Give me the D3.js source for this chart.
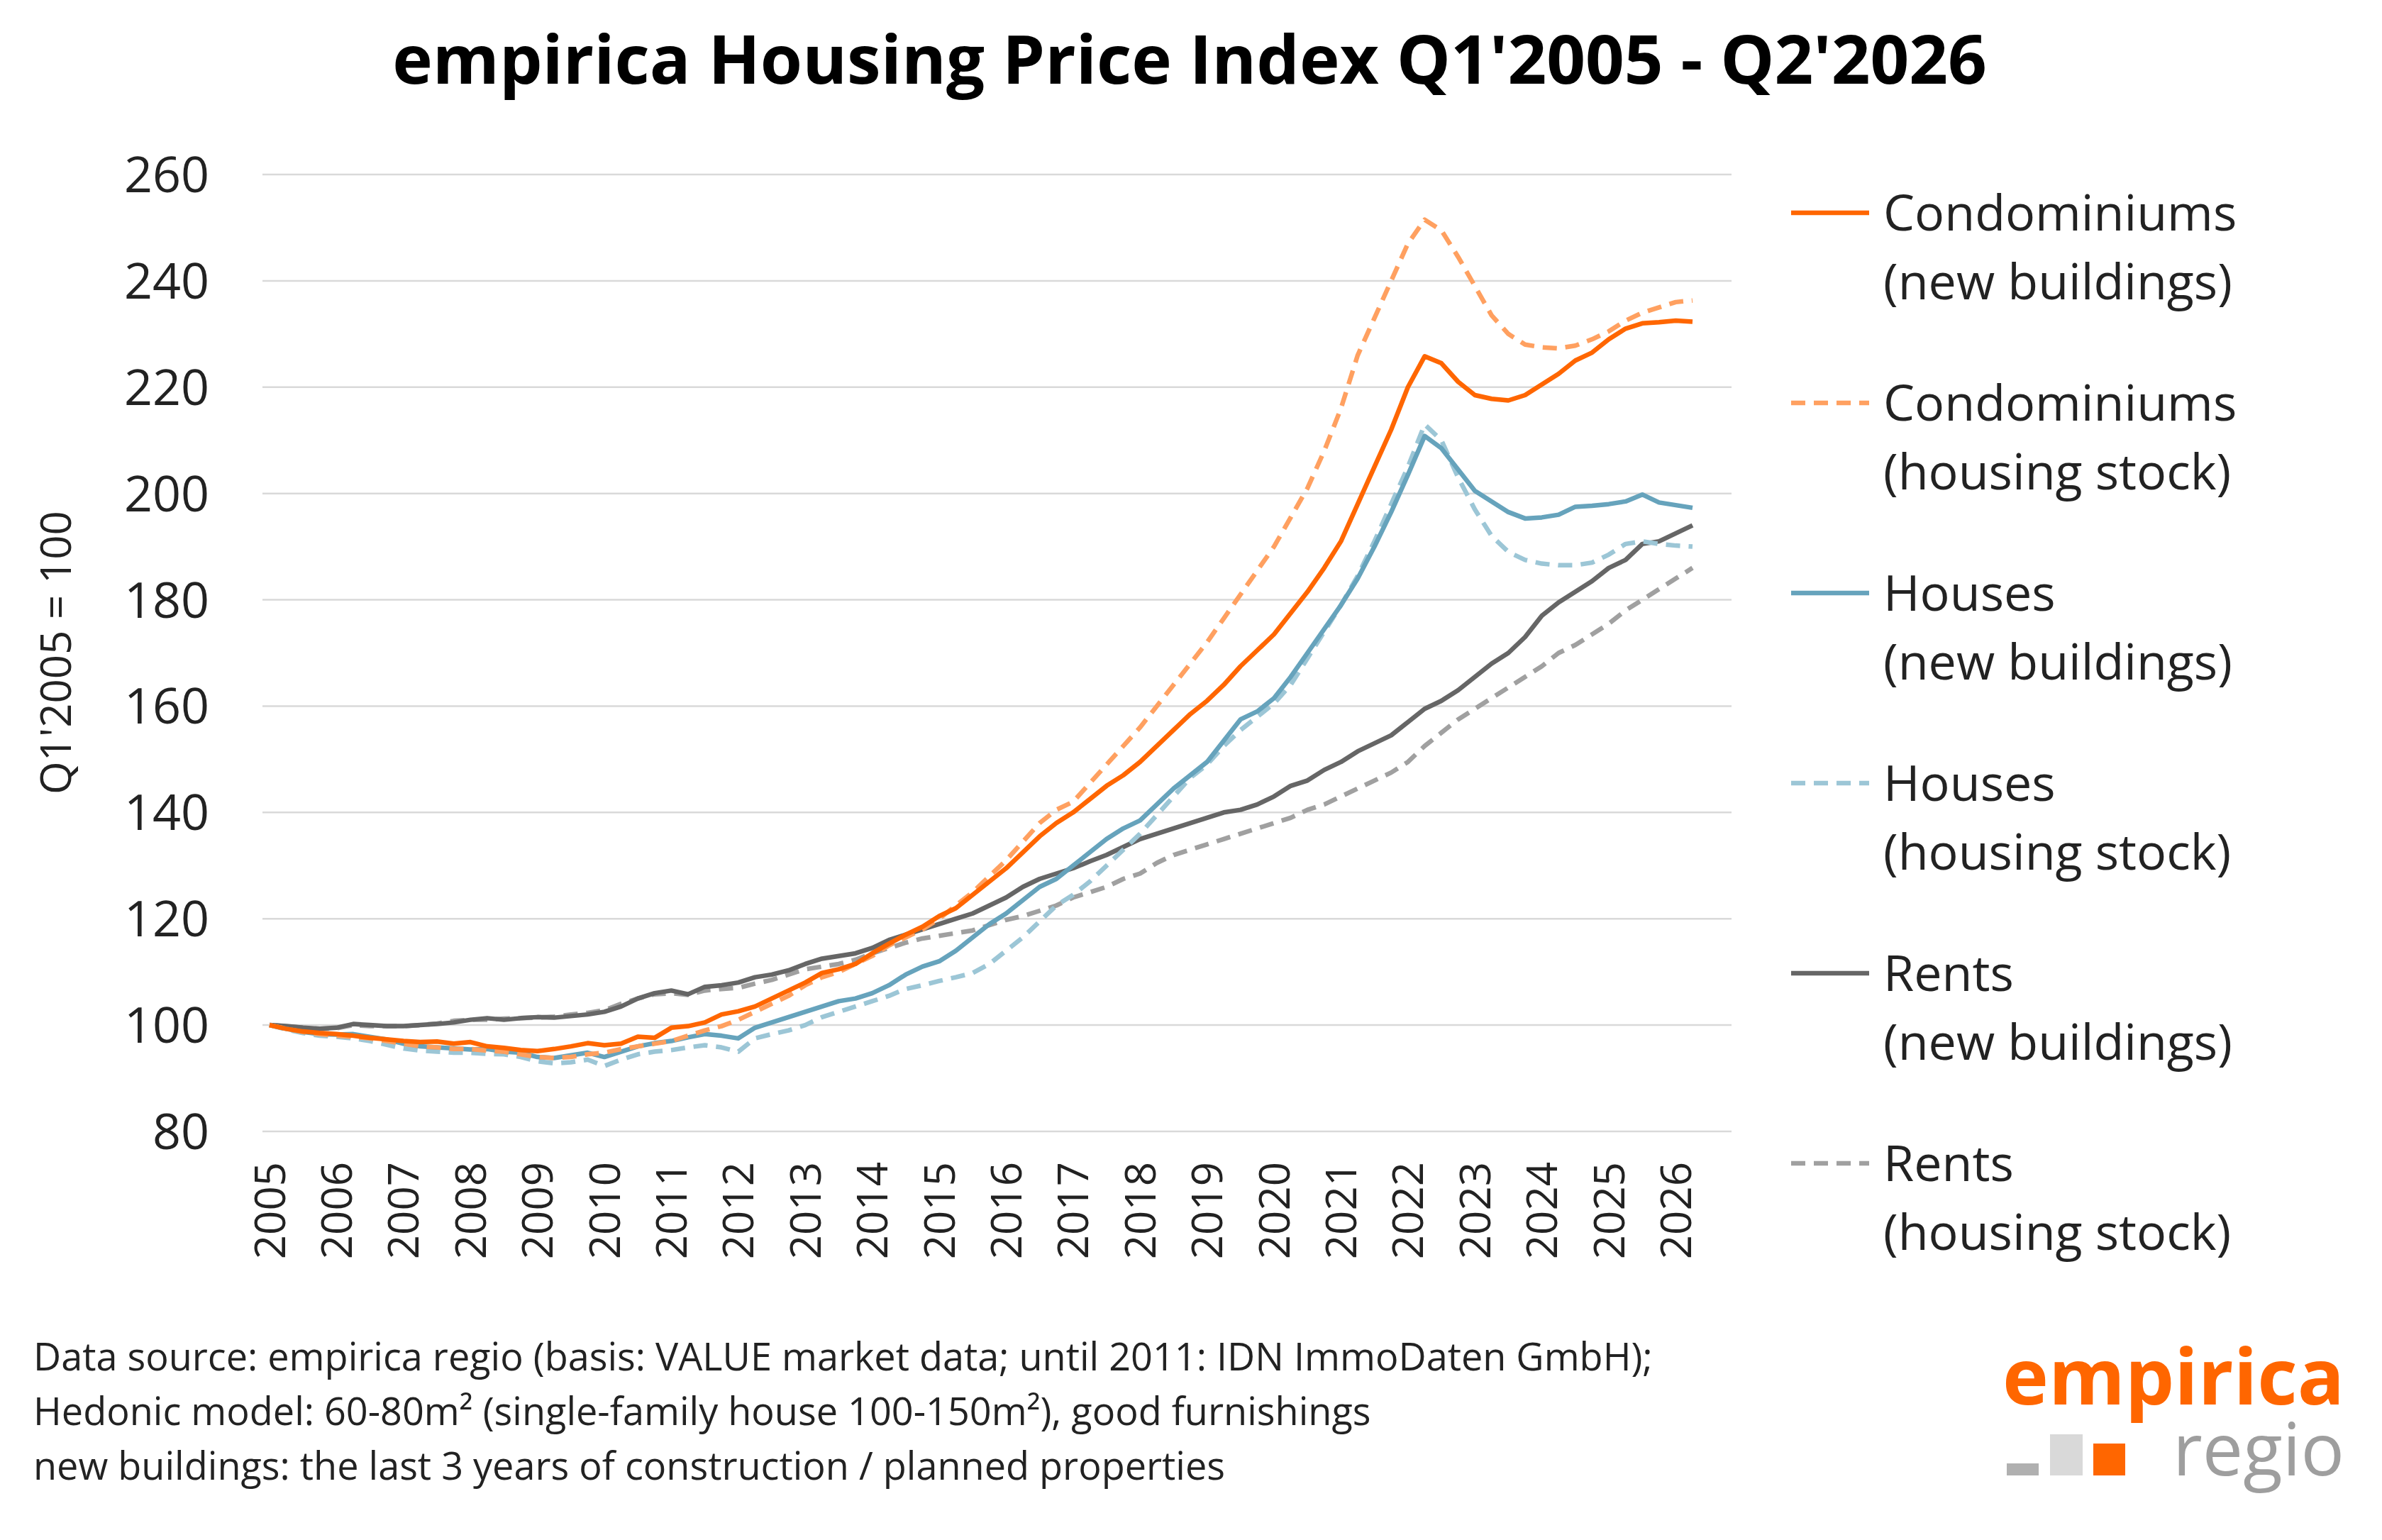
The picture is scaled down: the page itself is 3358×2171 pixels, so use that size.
<!DOCTYPE html>
<html><head><meta charset="utf-8">
<script src="https://cdn.jsdelivr.net/npm/d3@7"></script>
<style>body{margin:0;background:#fff}text{font-family:"Open Sans",Lato,sans-serif}</style>
</head><body><svg id="c" width="3358" height="2171"></svg>
<script>
const startYear = 2005;
const yearLabels = d3.range(2005, 2027).map(String);
const yTicks = [80,100,120,140,160,180,200,220,240,260];
const condoNew = [100,99.3,98.8,98.5, 98.3,98.0,97.6,97.3, 97.0,96.8,96.9,96.5, 96.8,96.0,95.7,95.3, 95.1,95.5,96.0,96.6, 96.2,96.5,97.8,97.6, 99.5,99.8,100.5,102.0, 102.6,103.5,105.0,106.5, 108.0,109.8,110.5,111.5, 113.5,115.3,117.0,118.5, 120.5,122.0,124.5,127.0, 129.5,132.5,135.5,138.0, 140.0,142.5,145.0,147.0, 149.5,152.5,155.5,158.5, 161.0,164.0,167.5,170.5, 173.5,177.5,181.5,186.0, 191.0,198.0,205.0,212.0, 220.0,225.8,224.5,221.0, 218.5,217.8,217.5,218.5, 220.5,222.5,225.0,226.5, 229.0,231.0,232.0,232.2, 232.5,232.3];
const condoStock = [100,99.3,98.7,98.3, 98.0,97.8,97.5,97.0, 96.5,96.0,95.8,95.5, 95.5,95.2,95.0,94.5, 94.0,93.8,94.0,94.5, 94.8,95.5,96.0,96.5, 97.0,98.0,99.0,99.8, 101.0,102.5,104.0,105.5, 107.5,109.0,110.0,111.5, 113.0,115.0,116.5,118.0, 120.0,122.5,125.0,128.0, 131.0,134.5,138.0,140.5, 142.0,145.5,149.0,152.5, 156.0,160.0,164.0,168.0, 172.0,176.5,181.0,185.5, 190.0,195.5,201.0,208.0, 216.0,226.0,233.0,240.0, 247.0,251.5,249.5,244.5, 239.0,233.5,230.0,228.0, 227.5,227.3,227.8,229.0, 230.5,232.5,234.0,235.0, 236.0,236.3];
const housesNew = [100,99.3,98.7,98.3, 98.2,98.3,97.8,97.3, 96.5,96.0,95.8,95.6, 95.4,95.5,95.0,94.8, 94.0,93.8,94.3,94.8, 94.0,95.0,96.0,96.6, 97.0,97.7,98.3,98.0, 97.5,99.5,100.5,101.5, 102.5,103.5,104.5,105.0, 106.0,107.5,109.5,111.0, 112.0,114.0,116.5,119.0, 121.0,123.5,126.0,127.5, 130.0,132.5,135.0,137.0, 138.5,141.5,144.5,147.0, 149.5,153.5,157.5,159.0, 161.5,165.5,170.0,174.5, 179.0,184.0,190.0,196.5, 203.5,210.8,208.5,204.5, 200.5,198.5,196.5,195.3, 195.5,196.0,197.5,197.7, 198.0,198.5,199.8,198.3, 197.8,197.3];
const housesStock = [100,99.2,98.5,98.0, 97.8,97.5,97.0,96.3, 95.6,95.2,95.0,94.8, 94.8,94.6,94.5,94.0, 93.2,92.8,93.0,93.5, 92.3,93.5,94.5,95.0, 95.3,95.8,96.2,95.8, 95.0,97.5,98.3,99.0, 100.0,101.5,102.5,103.5, 104.5,105.5,106.8,107.5, 108.3,109.0,109.8,111.5, 114.0,116.5,119.5,122.5, 124.5,127.0,130.0,133.0, 136.0,139.5,143.0,146.5, 149.0,152.5,155.5,158.0, 160.5,164.0,169.0,174.0, 179.0,184.5,191.0,198.0, 205.0,213.0,210.0,203.0, 197.0,192.0,189.0,187.5, 186.8,186.5,186.5,187.0, 188.5,190.5,191.0,190.5, 190.2,190.0];
const rentsNew = [100,99.8,99.5,99.3, 99.5,100.2,100.0,99.8, 99.8,100.0,100.2,100.5, 101.0,101.3,101.0,101.3, 101.5,101.4,101.7,102.0, 102.5,103.5,105.0,106.0, 106.5,105.8,107.2,107.5, 108.0,109.0,109.5,110.3, 111.5,112.5,113.0,113.5, 114.5,116.0,117.0,118.0, 119.0,120.0,121.0,122.5, 124.0,126.0,127.5,128.5, 129.5,130.8,132.0,133.5, 135.0,136.0,137.0,138.0, 139.0,140.0,140.5,141.5, 143.0,145.0,146.0,148.0, 149.5,151.5,153.0,154.5, 157.0,159.5,161.0,163.0, 165.5,168.0,170.0,173.0, 177.0,179.5,181.5,183.5, 186.0,187.5,190.5,191.0, 192.5,194.0];
const rentsStock = [100,99.8,99.5,99.3, 99.4,100.0,99.8,99.8, 99.8,100.0,100.3,100.8, 101.0,101.0,101.2,101.3, 101.4,101.6,102.0,102.3, 102.8,104.0,105.0,105.8, 106.0,105.7,106.5,106.8, 107.0,107.8,108.5,109.5, 110.5,111.0,111.5,112.3, 113.5,114.5,115.5,116.3, 116.8,117.3,117.8,118.8, 119.8,120.5,121.5,122.5, 124.0,125.0,126.0,127.5, 128.5,130.5,132.0,133.0, 134.0,135.0,136.0,137.0, 138.0,139.0,140.5,141.5, 143.0,144.5,146.0,147.5, 149.5,152.5,155.0,157.5, 159.5,161.5,163.5,165.5, 167.5,170.0,171.5,173.5, 175.5,178.0,180.0,182.0, 184.0,186.0];
const seriesNames = [["Condominiums","(new buildings)"],["Condominiums","(housing stock)"],["Houses","(new buildings)"],["Houses","(housing stock)"],["Rents","(new buildings)"],["Rents","(housing stock)"]];
const seriesColors = ["#ff6600","#ffa060","#66a3bc","#9cc6d6","#666666","#a0a0a0"];
const seriesDashed = [false,true,false,true,false,true];
const seriesData = [condoNew,condoStock,housesNew,housesStock,rentsNew,rentsStock];

const svg = d3.select("#c");
const x = d3.scaleLinear().domain([2005, 2026.25]).range([380, 2386]);
const y = d3.scaleLinear().domain([80, 260]).range([1595, 246]);

function fitSize(sel, base, target){ const w = sel.node().getComputedTextLength(); sel.attr("font-size", base*target/w); return base*target/w; }

const title = svg.append("text").attr("x",1677).attr("y",118).attr("text-anchor","middle")
  .attr("font-size",80).attr("font-weight","bold").text("empirica Housing Price Index Q1'2005 - Q2'2026");
fitSize(title,80,2248);

svg.append("g").selectAll("line").data(yTicks).join("line")
  .attr("x1",370).attr("x2",2441).attr("y1",d=>y(d)).attr("y2",d=>y(d))
  .attr("stroke","#d9d9d9").attr("stroke-width",2.5);

const yAxis = svg.append("g").attr("transform","translate(295,0)")
  .call(d3.axisLeft(y).tickValues(yTicks).tickSize(0).tickPadding(0));
yAxis.select(".domain").remove();
yAxis.selectAll("text").attr("font-size",70).attr("fill","#222").attr("font-family","'Open Sans',sans-serif").attr("dy","0.35em");

const xAxis = svg.append("g").attr("transform","translate(0,1638)")
  .call(d3.axisBottom(x).tickValues(yearLabels.map(Number)).tickFormat(d3.format("d")).tickSize(0).tickPadding(0));
xAxis.select(".domain").remove();
xAxis.selectAll("text").attr("font-size",60).attr("fill","#222").attr("font-family","'Open Sans',sans-serif")
  .attr("transform","rotate(-90)").attr("text-anchor","end").attr("x",0).attr("y",0).attr("dy","0.35em").attr("dx",0);

svg.append("text").attr("transform","translate(100,920) rotate(-90)").attr("text-anchor","middle")
  .attr("font-size",60).attr("fill","#222").text("Q1'2005 = 100");

const line = d3.line().x((d,i)=>x(startYear + i/4)).y(d=>y(d));
[5,4,3,2,1,0].forEach(k=>{
  svg.append("path").datum(seriesData[k]).attr("d",line).attr("fill","none")
    .attr("stroke",seriesColors[k]).attr("stroke-width",6.5).attr("stroke-linejoin","round")
    .attr("stroke-dasharray",seriesDashed[k]?"20,12":null);
});

const lg = svg.append("g");
const lgSize = 70;
seriesNames.forEach((nm,k)=>{
  const yy = 300 + k*268;
  lg.append("line").attr("x1",2525).attr("x2",2635).attr("y1",yy).attr("y2",yy)
    .attr("stroke",seriesColors[k]).attr("stroke-width",6.5).attr("stroke-dasharray",seriesDashed[k]?"20,12":null);
  lg.append("text").attr("x",2655).attr("y",yy).attr("dy","0.35em").attr("font-size",lgSize).attr("fill","#222").text(nm[0]);
  lg.append("text").attr("x",2655).attr("y",yy+97).attr("dy","0.35em").attr("font-size",lgSize).attr("fill","#222").text(nm[1]);
});

const notes = ["Data source: empirica regio (basis: VALUE market data; until 2011: IDN ImmoDaten GmbH);",
  "Hedonic model: 60-80m² (single-family house 100-150m²), good furnishings",
  "new buildings: the last 3 years of construction / planned properties"];
const nt = svg.append("g").selectAll("text").data(notes).join("text")
  .attr("x",47).attr("y",(d,i)=>1932+i*77).attr("font-size",48).attr("fill","#222").text(d=>d);
const nsz = 48*2656/nt.nodes()[0].getComputedTextLength();
nt.attr("font-size",Math.min(nsz,54));

const emp = svg.append("text").attr("x",3305).attr("y",1980).attr("text-anchor","end").attr("font-size",112)
  .attr("font-weight","bold").attr("fill","#ff6600").text("empirica");
fitSize(emp,112,482);
const reg = svg.append("text").attr("x",3305).attr("y",2080).attr("text-anchor","end").attr("font-size",105)
  .attr("fill","#9e9e9e").text("regio");
fitSize(reg,105,242);
svg.append("rect").attr("x",2829).attr("y",2063).attr("width",45).attr("height",17).attr("fill","#b0b0b0");
svg.append("rect").attr("x",2890).attr("y",2022).attr("width",46).attr("height",58).attr("fill","#d9d9d9");
svg.append("rect").attr("x",2951).attr("y",2035).attr("width",45).attr("height",45).attr("fill","#ff6600");
</script></body></html>
